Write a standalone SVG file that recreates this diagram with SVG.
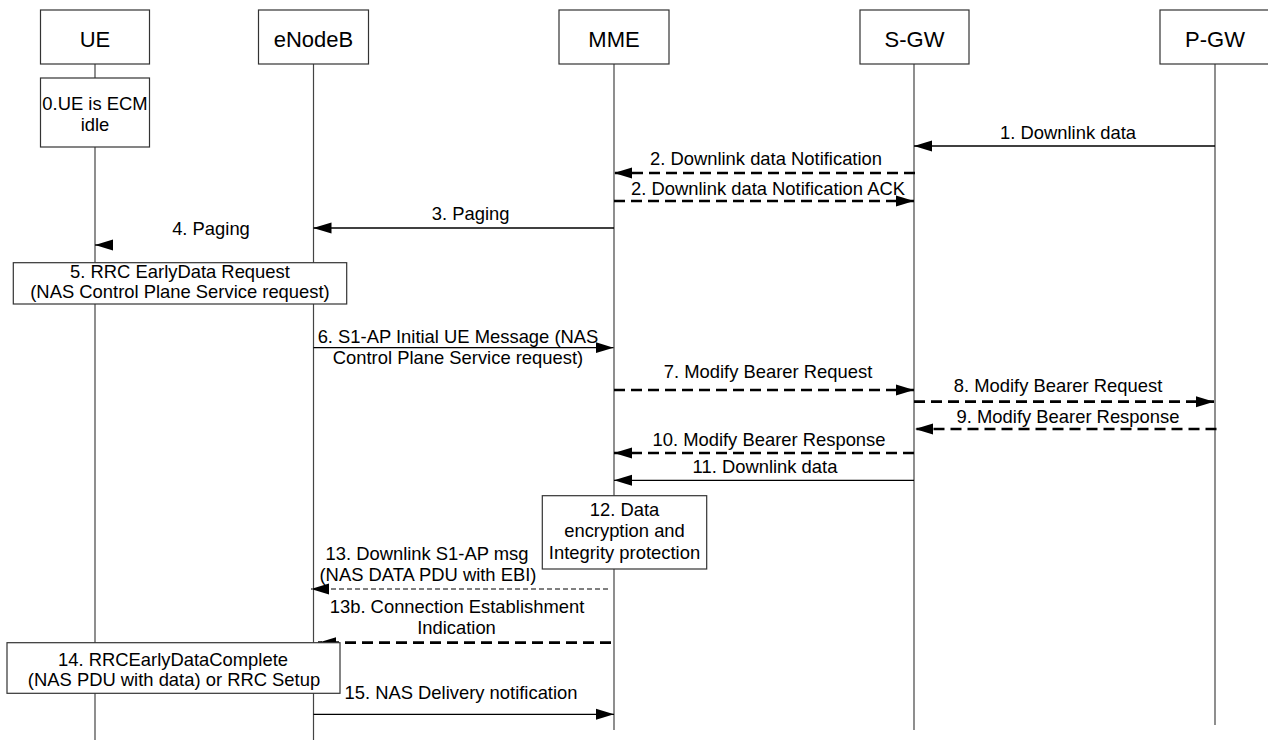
<svg xmlns="http://www.w3.org/2000/svg" width="1268" height="740" viewBox="0 0 1268 740">
<style>
  .box{fill:#fff;stroke:#333;stroke-width:1.2}
  .life{stroke:#444;stroke-width:1.2;fill:none}
  .hdr{font-family:"Liberation Sans",Arial,sans-serif;font-size:22px;text-anchor:middle;fill:#000}
  .t{font-family:"Liberation Sans",Arial,sans-serif;font-size:18.4px;text-anchor:middle;fill:#000}
  .solid{stroke:#000;stroke-width:1.3;fill:none;marker-end:url(#ah)}
  .dash{stroke:#000;stroke-width:2.7;stroke-dasharray:11 6;fill:none;marker-end:url(#ah)}
  .thin{stroke:#000;stroke-width:1;stroke-dasharray:5 3;fill:none;marker-end:url(#ah)}
</style>
<defs>
  <marker id="ah" markerUnits="userSpaceOnUse" markerWidth="18" markerHeight="12" refX="18" refY="6" orient="auto">
    <path d="M0,0.5 L18,6 L0,11.5 Z" fill="#000"/>
  </marker>
</defs>
<rect width="1268" height="740" fill="#fff"/>
<g id="lifelines">
  <line class="life" x1="95" y1="64" x2="95" y2="740"/>
  <line class="life" x1="313.5" y1="64" x2="313.5" y2="740"/>
  <line class="life" x1="614" y1="64" x2="614" y2="730"/>
  <line class="life" x1="914" y1="64" x2="914" y2="730"/>
  <line class="life" x1="1215" y1="64" x2="1215" y2="725"/>
</g>
<g id="UE"><rect class="box" x="40.5" y="10" width="109" height="54"/><text class="hdr" x="95" y="46.7">UE</text></g>
<g id="eNodeB"><rect class="box" x="258.5" y="10" width="110" height="54"/><text class="hdr" x="313.5" y="46.7">eNodeB</text></g>
<g id="MME"><rect class="box" x="559" y="10" width="110" height="54"/><text class="hdr" x="614" y="46.7">MME</text></g>
<g id="SGW"><rect class="box" x="860" y="10" width="109" height="54"/><text class="hdr" x="914.5" y="46.7">S-GW</text></g>
<g id="PGW"><rect class="box" x="1160" y="10" width="110" height="54"/><text class="hdr" x="1215" y="46.7">P-GW</text></g>
<g id="connectors">
  <path class="solid" d="M1215,146 L914,146"/>
  <path class="dash" d="M915,173 L614,173"/>
  <path class="dash" d="M614,201 L914,201"/>
  <path class="solid" d="M614,228 L313.5,228"/>
  <path class="solid" d="M113,245 L95,245"/>
  <path class="solid" d="M313.5,347.7 L613.5,347.7"/>
  <path class="dash" d="M614,390 L914,390"/>
  <path class="dash" d="M914,401.7 L1214,401.7"/>
  <path class="dash" d="M1216.5,429 L915,429"/>
  <path class="dash" d="M914,453 L614,453"/>
  <path class="solid" d="M914,480.3 L614,480.3"/>
  <path class="thin" d="M608,589 L311,589"/>
  <path class="dash" d="M611,642.7 L318,642.7"/>
  <path class="solid" d="M313.5,714.3 L614,714.3"/>
</g>
<g id="labels">
  <text class="t" x="1068" y="139">1. Downlink data</text>
  <text class="t" x="766" y="165">2. Downlink data Notification</text>
  <text class="t" x="768" y="195">2. Downlink data Notification ACK</text>
  <text class="t" x="470.6" y="220">3. Paging</text>
  <text class="t" x="211" y="235">4. Paging</text>
  <text class="t" x="458" y="343.3">6. S1-AP Initial UE Message (NAS</text>
  <text class="t" x="458" y="364">Control Plane Service request)</text>
  <text class="t" x="768" y="378">7. Modify Bearer Request</text>
  <text class="t" x="1058" y="391.7">8. Modify Bearer Request</text>
  <text class="t" x="1068" y="422.7">9. Modify Bearer Response</text>
  <text class="t" x="769" y="446">10. Modify Bearer Response</text>
  <text class="t" x="765" y="473.3">11. Downlink data</text>
  <text class="t" x="427" y="560">13. Downlink S1-AP msg</text>
  <text class="t" x="428" y="580.7">(NAS DATA PDU with EBI)</text>
  <text class="t" x="457" y="613">13b. Connection Establishment</text>
  <text class="t" x="456.5" y="634">Indication</text>
  <text class="t" x="461" y="699.3">15. NAS Delivery notification</text>
</g>
<g id="step0"><rect class="box" x="40.5" y="78" width="109" height="69"/>
  <text class="t" x="95" y="110">0.UE is ECM</text><text class="t" x="95" y="130.5">idle</text></g>
<g id="step5"><rect class="box" x="13.3" y="262.7" width="333.4" height="41.3"/>
  <text class="t" x="180" y="278">5. RRC EarlyData Request</text><text class="t" x="180" y="298">(NAS Control Plane Service request)</text></g>
<g id="step12"><rect class="box" x="542.3" y="495.7" width="164.4" height="73.3"/>
  <text class="t" x="624.5" y="515.7">12. Data</text><text class="t" x="624.5" y="537.3">encryption and</text><text class="t" x="624.5" y="558.5">Integrity protection</text></g>
<g id="step14"><rect class="box" x="7" y="642.7" width="333" height="50.6"/>
  <text class="t" x="173" y="666">14. RRCEarlyDataComplete</text><text class="t" x="174" y="686">(NAS PDU with data) or RRC Setup</text></g>
</svg>
